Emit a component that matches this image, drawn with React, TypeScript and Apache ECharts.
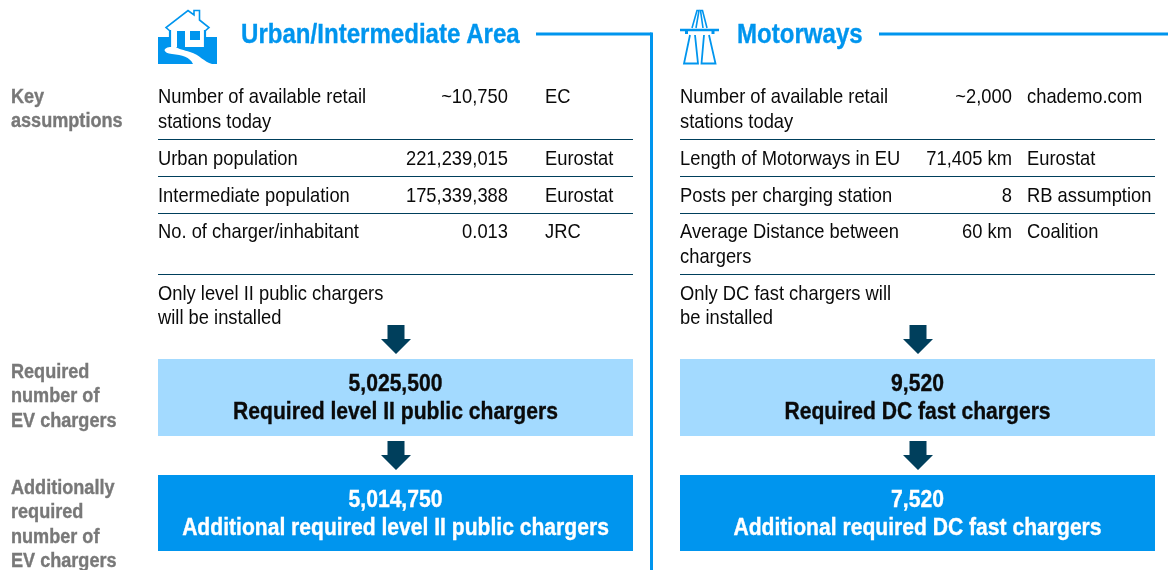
import React, { useEffect, useRef } from "react";
import * as echarts from "echarts";

const leftTitle = "Urban/Intermediate Area";
const rightTitle = "Motorways";
const sideLabels = [
  { lines: ["Key", "assumptions"], y: 96 },
  { lines: ["Required", "number of", "EV chargers"], y: 371 },
  { lines: ["Additionally", "required", "number of", "EV chargers"], y: 487 },
];
const leftRows = [
  { label: ["Number of available retail", "stations today"], value: "~10,750", source: "EC", y: 96 },
  { label: ["Urban population"], value: "221,239,015", source: "Eurostat", y: 158 },
  { label: ["Intermediate population"], value: "175,339,388", source: "Eurostat", y: 195 },
  { label: ["No. of charger/inhabitant"], value: "0.013", source: "JRC", y: 231 },
];
const rightRows = [
  { label: ["Number of available retail", "stations today"], value: "~2,000", source: "chademo.com", y: 96 },
  { label: ["Length of Motorways in EU"], value: "71,405 km", source: "Eurostat", y: 158 },
  { label: ["Posts per charging station"], value: "8", source: "RB assumption", y: 195 },
  { label: ["Average Distance between", "chargers"], value: "60 km", source: "Coalition", y: 231 },
];
const leftNote = ["Only level II public chargers", "will be installed"];
const rightNote = ["Only DC fast chargers will", "be installed"];
const leftBoxes = [
  ["5,025,500", "Required level II public chargers"],
  ["5,014,750", "Additional required level II public chargers"],
];
const rightBoxes = [
  ["9,520", "Required DC fast chargers"],
  ["7,520", "Additional required DC fast chargers"],
];
const ruleYs = [139.5, 176.5, 213.5, 274.5];

const BLUE = "#0095ee";
const LIGHT = "#a3daff";
const NAVY = "#003f5c";
const GREY = "#787878";
const FONT = '"Liberation Sans", Arial, sans-serif';
const SX = 0.918;

echarts.graphic.registerShape(
  "house",
  echarts.graphic.extendPath(
    "M158 37 L170 37 L170 47 C162 48 163 53 172 54 C182 55 190 57 193 64 L158 64 Z " +
      "M205 37 L217 37 L217 64 L212 64 C204 62 200 55 190 52 C184 50 178 49 176 47 L205 47 Z " +
      "M177 31 L185 31 L185 47 L177 47 Z M190 31 L200 31 L200 40 L190 40 Z",
    {}
  )
);

function text(x: number, y: number, t: string, o: any = {}) {
  const fill = o.fill ?? "#0a0a0a";
  const bold = o.weight === "bold";
  return {
    type: "text",
    x,
    y,
    scaleX: o.scaleX ?? SX,
    silent: true,
    style: {
      text: t,
      fontFamily: FONT,
      fontSize: o.size ?? 20,
      fontWeight: o.weight ?? "normal",
      fill,
      stroke: bold ? fill : undefined,
      lineWidth: bold ? 0.35 : 0,
      textAlign: o.align ?? "left",
      textVerticalAlign: "middle",
    },
  };
}

function line(x1: number, y1: number, x2: number, y2: number, stroke: string, lineWidth: number) {
  return { type: "line", silent: true, shape: { x1, y1, x2, y2 }, style: { stroke, lineWidth } };
}

function rect(x: number, y: number, width: number, height: number, fill: string) {
  return { type: "rect", silent: true, shape: { x, y, width, height }, style: { fill } };
}

function arrow(cx: number, top: number) {
  return {
    type: "polygon",
    silent: true,
    shape: {
      points: [
        [cx - 8.5, top], [cx + 8.5, top], [cx + 8.5, top + 14], [cx + 15, top + 14],
        [cx, top + 29], [cx - 15, top + 14], [cx - 8.5, top + 14],
      ],
    },
    style: { fill: NAVY },
  };
}

function column(
  rows: typeof leftRows, note: string[], boxes: string[][],
  x0: number, valueX: number, sourceX: number
) {
  const out: any[] = [];
  const cx = x0 + 237.5;
  const boxScale = 0.898;
  rows.forEach((r) => {
    r.label.forEach((l, i) => out.push(text(x0, r.y + i * 25, l)));
    out.push(text(valueX, r.y, r.value, { align: "right" }));
    out.push(text(sourceX, r.y, r.source));
  });
  ruleYs.forEach((y) => out.push(line(x0, y, x0 + 475, y, NAVY, 1)));
  note.forEach((l, i) => out.push(text(x0, 293 + i * 24, l)));
  out.push(arrow(cx + 0.5, 325));
  out.push(rect(x0, 359, 475, 77, LIGHT));
  const big = { align: "center", weight: "bold", size: 23.5, scaleX: boxScale };
  out.push(text(cx, 383, boxes[0][0], big));
  out.push(text(cx, 411, boxes[0][1], big));
  out.push(arrow(cx + 0.5, 441));
  out.push(rect(x0, 475, 475, 76, BLUE));
  out.push(text(cx, 499, boxes[1][0], { ...big, fill: "#ffffff" }));
  out.push(text(cx, 527, boxes[1][1], { ...big, fill: "#ffffff" }));
  return out;
}

function icons() {
  const p = (points: number[][], w = 2) => ({
    type: "polyline", silent: true, shape: { points },
    style: { stroke: BLUE, lineWidth: w, fill: "none" },
  });
  return [
    { type: "house", silent: true, style: { fill: BLUE } },
    p([[170, 31], [166, 27.5], [188, 10.5], [194, 15], [194, 10.5], [199.5, 10.5], [199.5, 20], [209, 27.5], [205, 31]], 1.6),
    p([[170, 30], [170, 47]], 2.2),
    p([[205, 30], [205, 47]], 2.2),
    // motorway
    p([[692, 28], [697, 10.5], [699, 10.5], [696, 28]], 1.6),
    p([[707, 28], [702.5, 10.5], [700.5, 10.5], [703, 28]], 1.6),
    line(680, 30, 719, 30, BLUE, 2.5),
    rect(685, 31, 3, 3, BLUE),
    rect(711.5, 31, 3, 3, BLUE),
    p([[690, 35], [684, 63.5], [698, 63.5], [695, 35]], 1.8),
    p([[704, 35], [701.5, 63.5], [715.5, 63.5], [709, 35]], 1.8),
  ];
}

export default function App() {
  const ref = useRef<HTMLDivElement>(null);
  useEffect(() => {
    const chart = echarts.init(ref.current!, undefined, { renderer: "svg" });
    const titleStyle = { weight: "bold", size: 28, fill: BLUE, scaleX: 0.86 };
    const elements: any[] = [
      ...column(leftRows, leftNote, leftBoxes, 158, 508, 545),
      ...column(rightRows, rightNote, rightBoxes, 680, 1012, 1027),
      text(241, 33, leftTitle, titleStyle),
      text(737, 33, rightTitle, titleStyle),
      line(536, 34, 651.5, 34, BLUE, 3),
      line(651.5, 32.5, 651.5, 570, BLUE, 3),
      line(879, 34, 1168, 34, BLUE, 3),
      ...icons(),
    ];
    sideLabels.forEach((s) =>
      s.lines.forEach((l, i) =>
        elements.push(text(11, s.y + i * 24.4, l, { weight: "bold", fill: GREY, scaleX: 0.905 }))
      )
    );
    chart.setOption({ animation: false, graphic: { elements } });
    return () => chart.dispose();
  }, []);
  return <div ref={ref} style={{ position: "fixed", left: 0, top: 0, width: 1168, height: 570 }} />;
}
